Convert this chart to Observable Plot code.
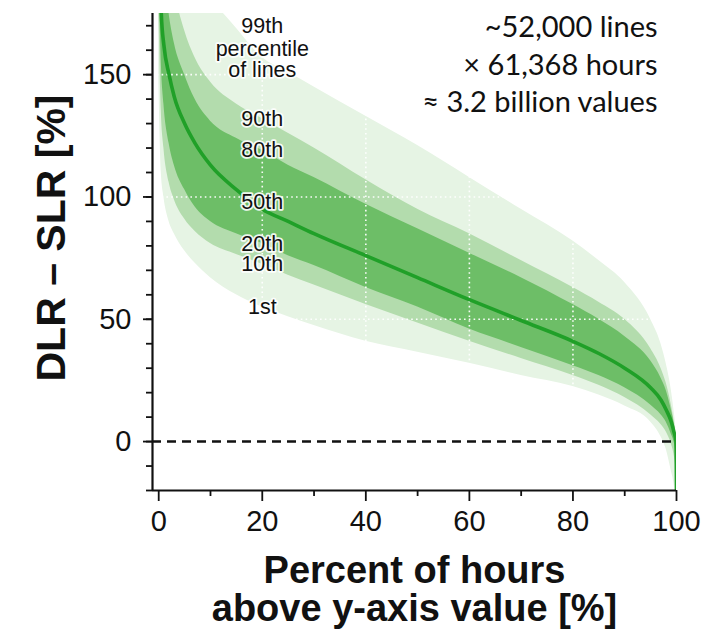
<!DOCTYPE html>
<html>
<head>
<meta charset="utf-8">
<script src="https://cdn.jsdelivr.net/npm/d3@7"></script>
<script src="https://cdn.jsdelivr.net/npm/@observablehq/plot@0.6"></script>
<style>
  html, body { margin: 0; padding: 0; background: #fff; }
  #chart { width: 718px; height: 635px; }
</style>
</head>
<body>
<div id="chart"></div>
<script>
// Percent of hours above y-axis value [%]
const hours = [0, 0.5, 1, 2, 3, 5, 7, 10, 15, 20, 25, 30, 40, 50, 60, 70, 80, 85, 90, 95, 97, 98, 99, 99.5, 99.9, 100];
// DLR - SLR [%] percentiles across lines
const p99 = [300, 280, 262, 240, 225, 205, 193, 182, 169, 157, 151, 145, 133, 121, 108, 95, 82, 74, 65, 50, 40, 32, 21, 13, 4, -20];
const p90 = [280, 240, 220, 198, 185, 168, 157, 147, 138, 132, 126, 120, 107, 95, 85, 74, 63, 57, 50, 38, 30, 24, 15, 9, 2, -20];
const p80 = [250, 215, 195, 175, 163, 150, 140, 131, 124, 119, 113, 108, 97, 87, 77, 67, 56, 50, 43, 33, 26, 21, 13, 8, 1, -20];
const p50 = [220, 175, 162, 150, 141, 130, 122, 113, 103, 95, 90, 85, 76, 67, 58, 49.5, 41, 36, 30, 22, 17, 13, 8, 4, 0, -20];
const p20 = [200, 155, 138, 122, 113, 103, 96, 90, 85, 81, 76, 72, 63, 55, 46, 38.5, 31, 27, 22, 15, 11, 8, 3, 0, -5, -20];
const p10 = [180, 135, 120, 106, 99, 91, 86, 81, 76.5, 72.5, 68, 64, 56, 48.5, 41, 34, 27, 23, 18, 11, 7, 4, -1, -5, -12, -20];
const p1  = [150, 110, 100, 90, 85, 78, 73, 67, 60, 55, 51, 47.5, 41, 36.5, 32, 27, 22.5, 19, 14.5, 8, 2, -3, -12, -17, -25, -30];

// percentile labels (text, value at x = 20)
const labelNames  = ["99th", "percentile", "of lines", "90th", "80th", "50th", "20th", "10th", "1st"];
const labelValues = [170, 160.6, 151.8, 131.7, 119, 98, 80.8, 72.5, 55];
const labelX = 20;

const yMajor = [0, 50, 100, 150];
const yMinor = d3.range(-20, 171, 10);
const xMajor = [0, 20, 40, 60, 80, 100];
const xMinor = [10, 30, 50, 70, 90];
const gridXs = [20, 40, 60, 80];
const gridYs = [50, 100, 150];

const noteLines = ["~52,000 lines", "× 61,368 hours", "≈ 3.2 billion values"];

const data = hours.map((h, i) => ({
  h, p99: p99[i], p90: p90[i], p80: p80[i], p50: p50[i], p20: p20[i], p10: p10[i], p1: p1[i]
}));
const labels = labelNames.map((t, i) => ({t, x: labelX, y: labelValues[i]}));

const xMin = -1.2;
const ink = "#111";
const sans = "'Liberation Sans', Arial, Helvetica, sans-serif";
const noteFont = "Lato, 'Open Sans', sans-serif";

const chart = Plot.plot({
  width: 718,
  height: 635,
  marginLeft: 152,
  marginRight: 42,
  marginTop: 13,
  marginBottom: 145,
  style: {fontFamily: sans, background: "#fff", overflow: "visible"},
  x: {domain: [xMin, 100]},
  y: {domain: [-20, 175]},
  marks: [
    Plot.areaY(data, {x: "h", y1: "p1", y2: "p99", fill: "#e6f4e4", curve: "monotone-x", clip: true}),
    Plot.areaY(data, {x: "h", y1: "p10", y2: "p90", fill: "#b3dcad", curve: "monotone-x", clip: true}),
    Plot.areaY(data, {x: "h", y1: "p20", y2: "p80", fill: "#6dbe67", curve: "monotone-x", clip: true}),
    Plot.ruleX(gridXs, {stroke: "#fff", strokeWidth: 1.6, strokeDasharray: "1.6,3.2", strokeOpacity: 0.95}),
    Plot.ruleY(gridYs, {stroke: "#fff", strokeWidth: 1.6, strokeDasharray: "1.6,3.2", strokeOpacity: 0.95}),
    Plot.ruleY([0], {stroke: ink, strokeWidth: 2.5, strokeDasharray: "9,6"}),
    Plot.line(data, {x: "h", y: "p50", stroke: "#20a028", strokeWidth: 3.6, curve: "monotone-x", clip: true}),
    // axes
    Plot.axisY(yMinor, {tickSize: 6, tickFormat: () => "", strokeWidth: 1.8, stroke: ink}),
    Plot.axisY(yMajor, {tickSize: 9, tickPadding: 12, fontSize: 29, strokeWidth: 1.8, stroke: ink, fill: ink}),
    Plot.axisX(xMinor, {tickSize: 6, tickFormat: () => "", strokeWidth: 1.8, stroke: ink}),
    Plot.axisX(xMajor, {tickSize: 11, tickPadding: 9, fontSize: 29, strokeWidth: 1.8, stroke: ink, fill: ink}),
    Plot.ruleX([xMin], {y1: -20, y2: 175, stroke: ink, strokeWidth: 2.2}),
    Plot.ruleY([-20], {x1: xMin, x2: 100, stroke: ink, strokeWidth: 2.2}),
    // percentile labels
    Plot.text(labels, {x: "x", y: "y", text: "t", fontSize: 21.5, fill: ink, stroke: "#fff", strokeWidth: 3.5, paintOrder: "stroke", strokeOpacity: 0.9}),
    // titles
    Plot.text(["DLR – SLR [%]"], {frameAnchor: "left", textAnchor: "middle", lineAnchor: "middle", dx: -101, dy: -14, rotate: -90, fontSize: 41, fontWeight: "bold", fill: ink}),
    Plot.text(["Percent of hours"], {frameAnchor: "bottom", dy: 92, fontSize: 38, fontWeight: "bold", fill: ink}),
    Plot.text(["above y-axis value [%]"], {frameAnchor: "bottom", dy: 130, fontSize: 38, fontWeight: "bold", fill: ink}),
    // note (three right-aligned lines)
    Plot.text([noteLines[0]], {frameAnchor: "top-right", dx: -19, dy: 23, textAnchor: "end", lineAnchor: "bottom", fontSize: 29, fontFamily: noteFont, fill: ink}),
    Plot.text([noteLines[1]], {frameAnchor: "top-right", dx: -19, dy: 61, textAnchor: "end", lineAnchor: "bottom", fontSize: 29, fontFamily: noteFont, fill: ink}),
    Plot.text([noteLines[2]], {frameAnchor: "top-right", dx: -19, dy: 98, textAnchor: "end", lineAnchor: "bottom", fontSize: 29, fontFamily: noteFont, fill: ink})
  ]
});
document.getElementById("chart").appendChild(chart);
</script>
</body>
</html>
